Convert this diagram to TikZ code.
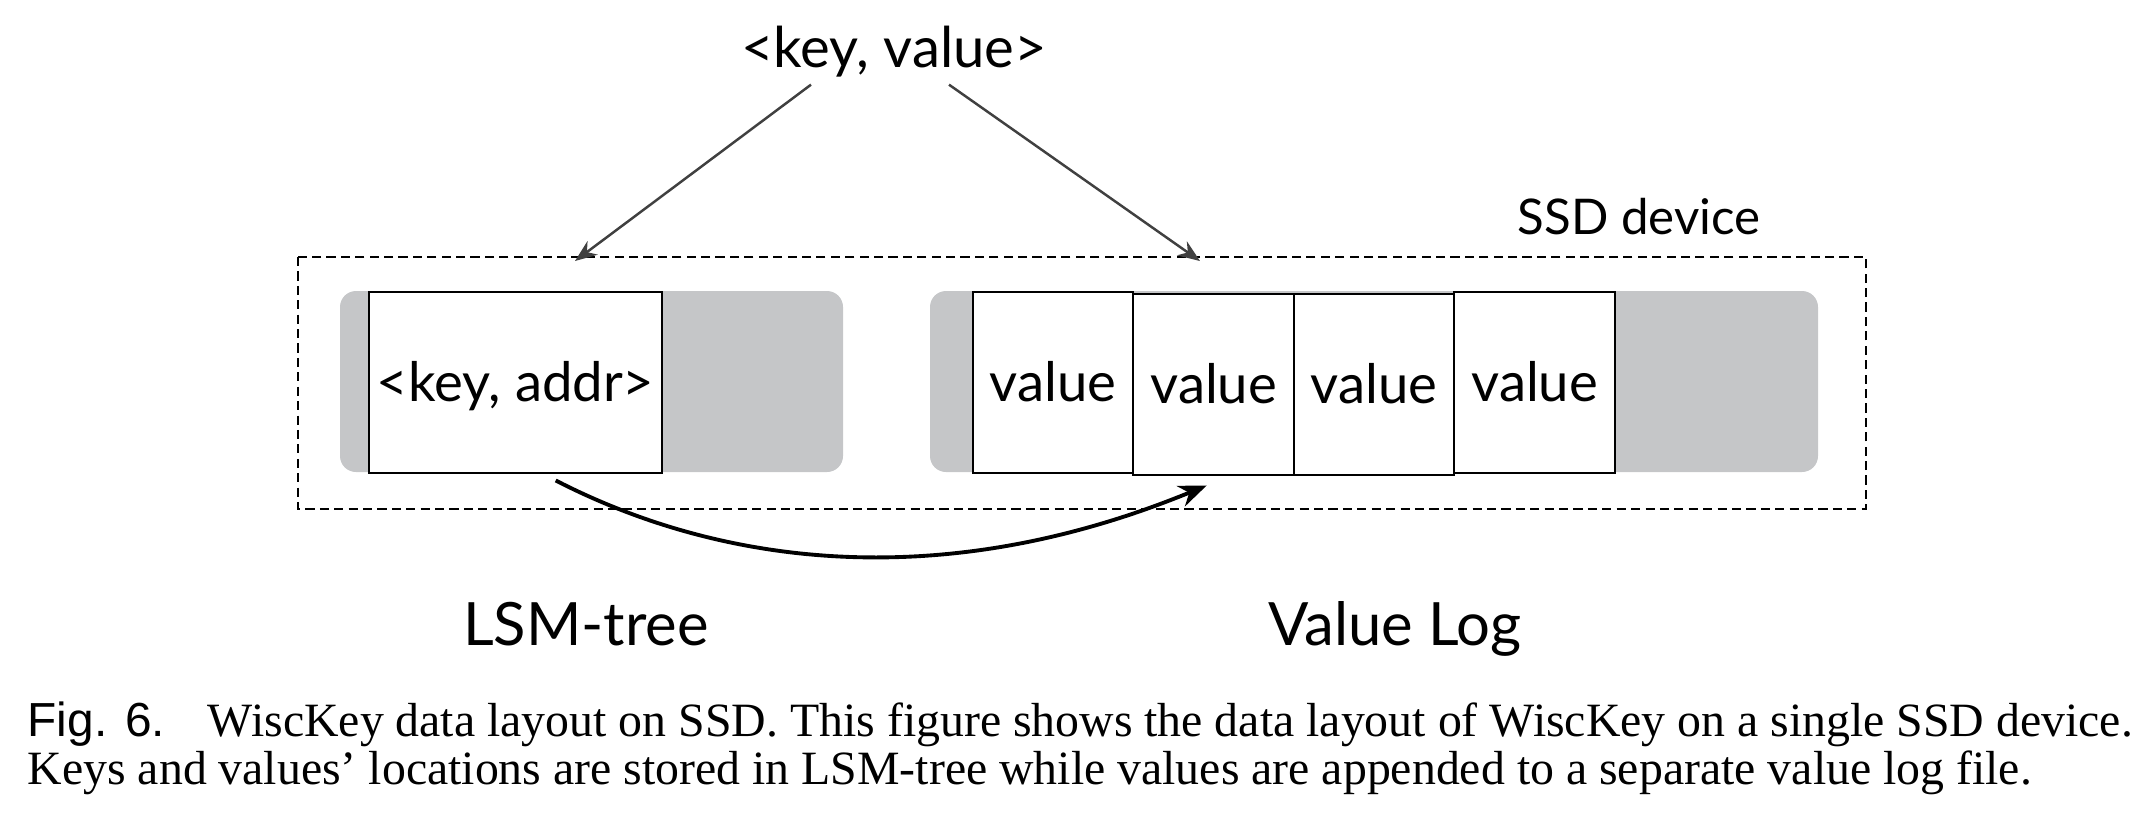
\documentclass[tikz,border=0pt]{standalone}
\usepackage{fontspec}
\setmainfont{Liberation Serif}
\newfontfamily\labelfont{Lato}
\newfontfamily\figfont{Liberation Sans}
\usetikzlibrary{arrows.meta}
\definecolor{traygray}{RGB}{197,198,200}
\definecolor{arrowgray}{RGB}{64,64,64}

\begin{document}
\begin{tikzpicture}[every node/.style={black},
	cell/.style={draw, fill=white, line width=0.7pt, inner sep=0, minimum height=1.81cm,
		text height=12pt, text depth=1.2pt, font=\labelfont\fontsize{15.5}{18}\selectfont},
	tag/.style={anchor=base, inner sep=0, font=\labelfont\fontsize{17}{20}\selectfont},
	feed/.style={arrowgray, line width=0.7pt, -{Stealth[length=0.22cm,width=0.17cm]}},
	ptr/.style={line width=1.1pt, -{Stealth[length=0.28cm,width=0.22cm]}},
	capline/.style={anchor=base west, inner sep=0, font=\fontsize{13.6}{14}\selectfont}]
	\useasboundingbox (0,0) rectangle (21.56,-8.30);

	\draw[dash pattern=on 2.6pt off 1.5pt, line width=0.55pt] (2.98,-2.57) rectangle (18.66,-5.09);
	\node[tag, font=\labelfont\fontsize{14}{17}\selectfont] (ssd) at (16.39,-2.34) {SSD device};

	\fill[traygray, rounded corners=0.16cm] (3.40,-2.91) rectangle (8.43,-4.72);
	\fill[traygray, rounded corners=0.16cm] (9.30,-2.91) rectangle (18.18,-4.72);

	\node[cell, anchor=north west, minimum width=2.93cm] (keyaddr) at (3.68,-2.91) {<key, addr>};
	\node[cell, anchor=north west, minimum width=1.60cm] (val1) at (9.72,-2.91) {value};
	\node[cell, anchor=north west, minimum width=1.61cm] (val2) at (11.32,-2.93) {value};
	\node[cell, anchor=north west, minimum width=1.60cm] (val3) at (12.93,-2.93) {value};
	\node[cell, anchor=north west, minimum width=1.61cm] (val4) at (14.53,-2.91) {value};

	\node[tag, font=\labelfont\fontsize{16}{19}\selectfont, outer sep=0.08cm] (kv) at (8.94,-0.67) {<key, value>};
	\coordinate (lsm-in) at (5.75,-2.61);
	\coordinate (vlog-in) at (12.00,-2.61);
	\draw[feed] ([xshift=-0.83cm]kv.south) -- (lsm-in);
	\draw[feed] ([xshift=0.55cm]kv.south) -- (vlog-in);

	\coordinate (ptr-from) at ([shift={(0.40,-0.06)}]keyaddr.south);
	\coordinate (ptr-to) at ([shift={(-0.07,-0.09)}]val2.south);
	\draw[ptr] (ptr-from) .. controls (7.2,-5.65) and (9.4,-5.95) .. (ptr-to);

	\node[tag] (lsm) at (5.86,-6.45) {LSM-tree};
	\node[tag] (vlog) at (13.95,-6.45) {Value Log};

	\node[capline] (cap-a) at (0.27,-7.36) {{\figfont Fig. 6.}\hspace{0.9em}WiscKey data layout on SSD. This figure shows the data layout of WiscKey on a single SSD device.};
	\node[capline] (cap-b) at (0.27,-7.84) {Keys and values’ locations are stored in LSM-tree while values are appended to a separate value log file.};
\end{tikzpicture}
\end{document}
